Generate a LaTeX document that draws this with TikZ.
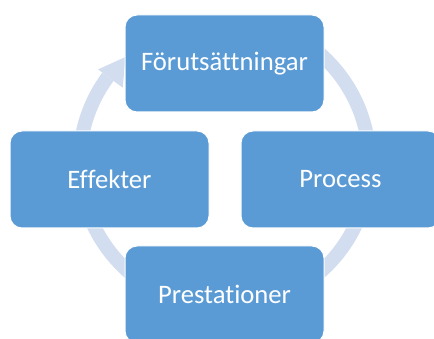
\documentclass[tikz,border=0pt]{standalone}
\usepackage{fontspec}
\setmainfont[Ligatures={NoCommon}]{Carlito}
\usetikzlibrary{calc}
\definecolor{boxblue}{HTML}{5B9BD5}
\definecolor{ringblue}{HTML}{D2DDEF}
\tikzset{
  x=0.75pt, y=0.75pt,
  stagebox/.style={fill=boxblue, draw=white, line width=0.75pt, rounded corners=9pt,
    minimum width=149.25pt, minimum height=72.75pt, inner sep=0pt, outer sep=0pt,
    text=white, font=\fontsize{20}{24}\selectfont},
  ringband/.style={draw=ringblue, line width=10.5pt},
  ringhead/.style={fill=ringblue, draw=none}
}
\begin{document}
\begin{tikzpicture}
\useasboundingbox (0,0) rectangle (434,338);
\clip (0,0) rectangle (434,338);
\coordinate (C) at (224.5,175);
% circular arrow band
\draw[ringband] ($(C)+(70:108.75pt)$) arc[start angle=70, end angle=-216.5, radius=108.75pt];
\fill[ringhead] ($(C)+(143.5:95pt)$) -- ($(C)+(143.5:118pt)$) -- ($(C)+(133:108.75pt)$) -- cycle;
% stages
\node[stagebox] (forut) at (224.5,274.5) {Förutsättningar};
\node[stagebox] (process) at (340.5,158.5) {Process};
\node[stagebox] (prest) at (224.5,43.5) {Prestationer};
\node[stagebox] (effekt) at (109.5,158.5) {Effekter};
\end{tikzpicture}
\end{document}
